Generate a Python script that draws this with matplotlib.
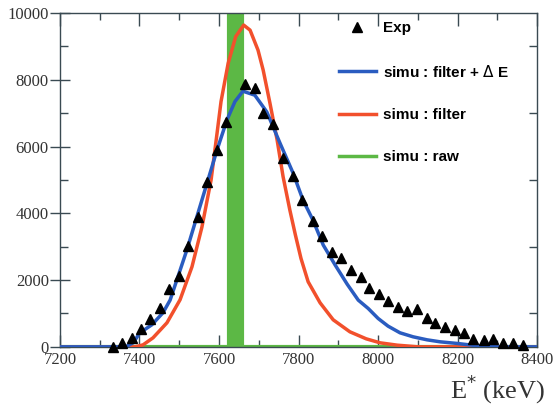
import numpy as np
import matplotlib.pyplot as plt
from matplotlib.lines import Line2D

# experimental points (E* in keV, counts)
exp_e = [7333, 7356, 7380, 7403, 7427, 7452, 7475, 7500, 7523, 7548, 7570, 7595,
         7618, 7665, 7690, 7710, 7736, 7761, 7786, 7809, 7836, 7859, 7884, 7907,
         7932, 7957, 7977, 8003, 8025, 8050, 8073, 8098, 8122, 8143, 8168, 8194,
         8216, 8239, 8265, 8290, 8315, 8340, 8363]
exp_n = [0, 120, 270, 540, 840, 1170, 1740, 2110, 3030, 3880, 4940, 5900,
         6740, 7870, 7760, 7000, 6680, 5660, 5120, 4400, 3770, 3310, 2830, 2660,
         2310, 2100, 1760, 1590, 1380, 1200, 1080, 1140, 860, 720, 600, 510,
         420, 240, 210, 240, 120, 120, 60]

# simu : filter + dE
blue_e = [7200, 7365, 7384, 7401, 7431, 7459, 7477, 7519, 7557, 7595, 7620, 7640,
          7660, 7690, 7720, 7753, 7786, 7811, 7836, 7862, 7892, 7922, 7950, 7975,
          8000, 8025, 8055, 8088, 8123, 8156, 8200, 8250, 8300, 8400]
blue_n = [0, 0, 120, 420, 660, 1020, 1400, 2900, 4400, 5900, 6800, 7350,
          7660, 7540, 7040, 6110, 5210, 4400, 3800, 3050, 2450, 1880, 1400, 1150,
          850, 620, 420, 300, 210, 150, 100, 30, 0, 0]

# simu : filter
red_e = [7200, 7390, 7409, 7434, 7469, 7502, 7532, 7557, 7580, 7595, 7605, 7623,
         7642, 7662, 7678, 7698, 7711, 7728, 7746, 7761, 7778, 7792, 7806, 7824,
         7854, 7887, 7929, 7970, 8005, 8048, 8100, 8400]
red_n = [0, 0, 60, 270, 720, 1410, 2400, 3590, 5000, 6400, 7350, 8500,
         9300, 9640, 9490, 8890, 8290, 7300, 6200, 5100, 4100, 3350, 2650, 1950,
         1320, 810, 450, 240, 120, 50, 0, 0]

# simu : raw (one bin, goes off scale)
raw_edges = [7200, 7625, 7658, 8400]
raw_n = [0, 60000, 0]

blue = "#2a5cc0"
red = "#f2502c"
green = "#5cb845"
axc = "#3a4a52"

fig = plt.figure(figsize=(5.55, 4.09), dpi=100)
ax = fig.add_axes([0.108, 0.152, 0.860, 0.816])

ax.stairs(raw_n, raw_edges, fill=True, color=green, zorder=2)
ax.stairs(raw_n, raw_edges, color=green, lw=3, zorder=2)
ax.plot(red_e, red_n, color=red, lw=2.5, zorder=3)
ax.plot(blue_e, blue_n, color=blue, lw=2.5, zorder=4)
ax.plot(exp_e, exp_n, "^", color="black", ms=7.5, zorder=5, clip_on=False)

ax.set_xlim(7200, 8400)
ax.set_ylim(0, 10000)
ax.set_xticks(np.arange(7200, 8401, 200))
ax.set_xticks(np.arange(7300, 8400, 200), minor=True)
ax.set_yticks(np.arange(0, 10001, 2000))
ax.set_yticks(np.arange(1000, 10000, 2000), minor=True)

for s in ax.spines.values():
    s.set_color(axc)
    s.set_linewidth(1)
ax.tick_params(which="both", direction="in", top=True, right=True, color=axc)
ax.tick_params(axis="x", which="major", length=9, width=1, pad=4)
ax.tick_params(axis="x", which="minor", length=5, width=1)
ax.tick_params(axis="y", which="major", direction="inout", length=14, width=1, pad=1)
ax.tick_params(axis="y", which="minor", length=6, width=1)
ax.tick_params(axis="y", which="major", right=False)
for lab in ax.get_xticklabels() + ax.get_yticklabels():
    lab.set_family("Liberation Serif")
    lab.set_fontsize(12)
    lab.set_color("#333333")

fig.text(0.983, 0.026, "E$^{*}$ (keV)", ha="right", va="baseline",
         family="Liberation Serif", fontsize=19, color="#333333")

handles = [
    Line2D([], [], ls="none", marker="^", color="black", ms=7.5),
    Line2D([], [], color=blue, lw=2.5),
    Line2D([], [], color=red, lw=2.5),
    Line2D([], [], color=green, lw=2.5),
]
labels = ["Exp", "simu : filter + $\\Delta$ E", "simu : filter", "simu : raw"]
ax.legend(handles, labels, loc="upper left", bbox_to_anchor=(0.585, 0.975),
          frameon=False, borderpad=0, borderaxespad=0, handlelength=2.4,
          handletextpad=0.5, labelspacing=1.85,
          prop={"family": "Liberation Sans", "weight": "bold", "size": 11})

fig.savefig("out.png", dpi=100)
